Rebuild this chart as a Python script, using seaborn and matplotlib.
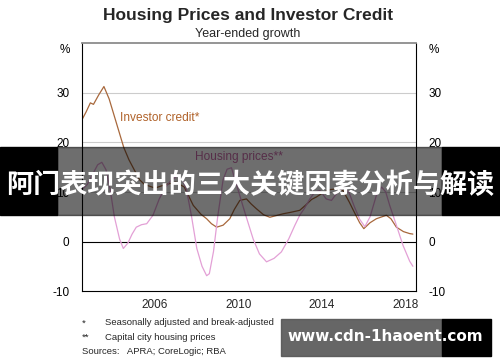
import numpy as np
import pandas as pd
import seaborn as sns
import matplotlib.pyplot as plt
from matplotlib.patches import Rectangle

# investor credit, year-ended growth (%)
ic_dates = [2003.0, 2003.2, 2003.4, 2003.55, 2003.8, 2004.05, 2004.3, 2004.5, 2004.75,
            2005.0, 2005.25, 2005.5, 2005.75, 2006.0, 2006.5, 2007.0, 2007.5, 2007.9,
            2008.33, 2008.7, 2008.97, 2009.2, 2009.45, 2009.76, 2010.08, 2010.3, 2010.56,
            2010.88, 2011.1, 2011.36, 2011.7, 2012.0, 2012.63, 2013.0, 2013.43, 2013.7,
            2014.0, 2014.23, 2014.6, 2014.9, 2015.2, 2015.5, 2015.8, 2016.0, 2016.3,
            2016.5, 2016.8, 2017.1, 2017.58, 2017.8, 2018.06, 2018.4, 2018.7, 2018.85]
ic_values = [24.6, 26.2, 28.0, 27.7, 29.6, 31.3, 28.8, 26.0, 22.5,
             19.0, 16.5, 14.5, 12.5, 11.5, 10.8, 11.5, 12.0, 11.0,
             7.3, 5.5, 4.6, 3.6, 2.9, 3.3, 4.6, 6.5, 8.3,
             8.6, 7.6, 6.6, 5.4, 4.9, 5.6, 5.9, 6.3, 7.3,
             8.5, 9.0, 10.0, 10.5, 10.6, 10.3, 8.0, 6.3, 3.8,
             2.6, 3.8, 4.6, 5.3, 4.6, 2.9, 2.0, 1.6, 1.5]

# capital city housing prices, year-ended growth (%)
hp_dates = [2003.0, 2003.25, 2003.5, 2003.75, 2003.95, 2004.15, 2004.35, 2004.55, 2004.8,
            2004.98, 2005.2, 2005.4, 2005.6, 2005.85, 2006.1, 2006.4, 2006.7, 2007.0,
            2007.3, 2007.6, 2007.8, 2008.0, 2008.25, 2008.5, 2008.75, 2008.97, 2009.1,
            2009.3, 2009.5, 2009.76, 2009.95, 2010.16, 2010.4, 2010.8, 2011.2, 2011.5,
            2011.84, 2012.2, 2012.55, 2012.9, 2013.2, 2013.43, 2013.67, 2013.9, 2014.15,
            2014.4, 2014.7, 2014.95, 2015.25, 2015.55, 2015.8, 2016.05, 2016.3, 2016.55,
            2016.8, 2017.1, 2017.35, 2017.55, 2017.74, 2018.06, 2018.37, 2018.7, 2018.85]
hp_values = [10.5, 11.5, 13.5, 15.5, 16.0, 14.5, 10.5, 5.0, 0.5,
             -1.4, -0.3, 1.5, 2.9, 3.4, 3.6, 5.3, 8.6, 11.0,
             12.5, 13.3, 12.5, 10.6, 5.0, -1.4, -5.0, -6.9, -6.5,
             -2.0, 5.0, 12.5, 14.6, 14.9, 11.5, 5.9, 0.5, -2.5,
             -4.1, -3.4, -2.1, 0.5, 3.3, 5.3, 6.8, 8.5, 10.0,
             10.3, 8.6, 8.3, 10.0, 11.0, 9.8, 7.0, 4.5, 3.0,
             5.0, 9.3, 11.0, 10.0, 7.3, 3.3, -0.7, -4.0, -5.0]

y_ticks = [-10, 0, 10, 20, 30, 39]
y_labels = ['-10', '0', '10', '20', '30', '%']
year_labels = ['2006', '2010', '2014', '2018']

df = pd.concat([
    pd.DataFrame({'date': ic_dates, 'growth': ic_values, 'series': 'Investor credit*'}),
    pd.DataFrame({'date': hp_dates, 'growth': hp_values, 'series': 'Housing prices**'}),
])

sns.set_theme(style="white")
plt.rcParams['font.family'] = ['Liberation Sans', 'DejaVu Sans']

brown = '#a8683c'
pink = '#e3a0d6'

fig = plt.figure(figsize=(5, 3.62), dpi=100)
ax = fig.add_axes([0.164, 0.196, 0.668, 0.684])

for y in [10, 20, 30]:
    ax.axhline(y, color='#cccccc', lw=0.8, zorder=0)
ax.axhline(0, color='black', lw=0.8, zorder=1)

sns.lineplot(data=df, x='date', y='growth', hue='series', estimator=None, sort=False,
             palette={'Investor credit*': brown, 'Housing prices**': pink},
             lw=0.9, legend=False, ax=ax)

ax.set_xlim(2003, 2019)
ax.set_ylim(-10, 40)
ax.set_xlabel('')
ax.set_ylabel('')
ax.set_yticks(y_ticks)
ax.set_yticklabels(y_labels)
ax.tick_params(axis='y', left=False, right=False, labelleft=True, labelright=True,
               labelsize=8.5, pad=3, colors='black')
ax.set_xticks(range(2004, 2019))
ax.set_xticklabels([])
ax.set_xticks([2006.5, 2010.5, 2014.5, 2018.5], minor=True)
ax.set_xticklabels(year_labels, minor=True)
ax.tick_params(axis='x', which='major', direction='in', length=4, width=0.8, color='black')
ax.tick_params(axis='x', which='minor', length=0, labelsize=8.5, pad=6)

for s in ['left', 'right', 'bottom']:
    ax.spines[s].set_color('black')
    ax.spines[s].set_linewidth(0.8)
ax.spines['top'].set_color('#8c8c8c')
ax.spines['top'].set_linewidth(1.3)

ax.text(2004.8, 25, 'Investor credit*', color='#b0622a', fontsize=8.6, va='center')
ax.text(2008.4, 17.1, 'Housing prices**', color='#c86aa8', fontsize=8.6, va='center')

fig.text(0.496, 0.958, 'Housing Prices and Investor Credit', ha='center', va='center',
         fontsize=12.5, fontweight='bold')
fig.text(0.496, 0.906, 'Year-ended growth', ha='center', va='center', fontsize=9)

fig.text(0.164, 0.108, '*', fontsize=6.8, va='center')
fig.text(0.21, 0.108, 'Seasonally adjusted and break-adjusted', fontsize=6.8, va='center')
fig.text(0.164, 0.069, '**', fontsize=6.8, va='center')
fig.text(0.21, 0.069, 'Capital city housing prices', fontsize=6.8, va='center')
fig.text(0.164, 0.030, 'Sources:   APRA; CoreLogic; RBA', fontsize=6.8, va='center')

# overlay banner
fig.patches.append(Rectangle((0, 0.406), 0.114, 0.188, transform=fig.transFigure,
                             color='black', zorder=5))
fig.patches.append(Rectangle((0.114, 0.406), 0.77, 0.188, transform=fig.transFigure,
                             color='black', alpha=0.57, zorder=5))
fig.patches.append(Rectangle((0.884, 0.406), 0.116, 0.188, transform=fig.transFigure,
                             color='black', zorder=5))
fig.text(0.5, 0.489, '阿门表现突出的三大关键因素分析与解读', ha='center', va='center',
         fontsize=19.5, fontweight='bold', color='white',
         family=['Noto Sans CJK SC', 'DejaVu Sans'], zorder=6)

# watermark
fig.patches.append(Rectangle((0.562, 0.017), 0.322, 0.102, transform=fig.transFigure,
                             color='#555555', alpha=0.9, zorder=5))
fig.patches.append(Rectangle((0.884, 0.017), 0.098, 0.102, transform=fig.transFigure,
                             color='black', zorder=5))
fig.text(0.77, 0.070, 'www.cdn-1haoent.com', ha='center', va='center', fontsize=11,
         fontweight='bold', color='white', family=['DejaVu Sans'], zorder=6)

fig.savefig('out.png', dpi=100)
